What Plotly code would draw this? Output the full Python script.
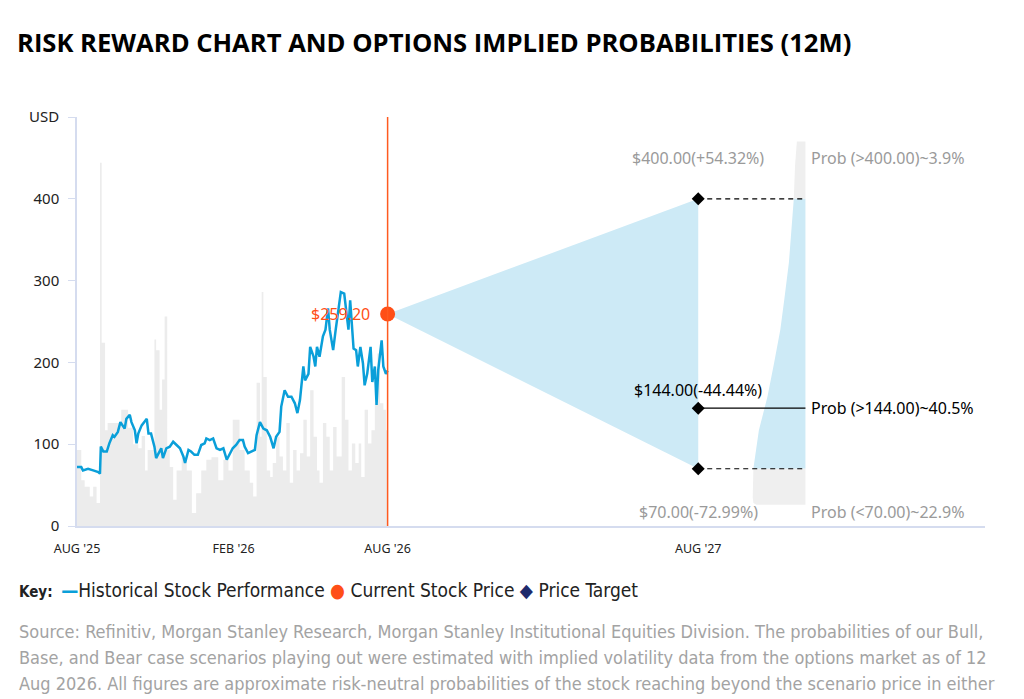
import pandas as pd
import plotly.graph_objects as go

# Historical price (days since 12 Aug 2025, USD)
price_days = [0, 5, 7, 13, 19, 25, 27, 28, 31, 35,
              38, 42, 44, 48, 51, 54, 56, 58, 62, 64,
              68, 70, 72, 76, 80, 82, 84, 87, 91, 93,
              96, 99, 101, 105, 109, 113, 117, 121, 125, 127,
              131, 134, 138, 142, 146, 150, 152, 156, 160, 164,
              168, 172, 176, 180, 183, 187, 191, 195, 197, 201,
              205, 209, 211, 215, 219, 223, 227, 231, 234, 238,
              240, 244, 248, 252, 256, 259, 262, 266, 268, 272,
              274, 278, 280, 282, 285, 289, 292, 295, 297, 301,
              304, 307, 310, 314, 317, 319, 321, 325, 328, 330,
              333, 336, 338, 341, 345, 347, 350, 352, 354, 358,
              360, 363, 365]
price_vals = [72, 72, 68, 70, 68, 66, 64, 97, 91, 91,
              101, 111, 109, 115, 127, 123, 119, 131, 136, 127,
              117, 101, 113, 123, 129, 131, 113, 113, 97, 83,
              89, 95, 83, 95, 97, 103, 99, 95, 85, 77,
              93, 91, 87, 87, 99, 101, 107, 105, 107, 95,
              93, 95, 81, 89, 95, 99, 105, 105, 97, 89,
              91, 93, 111, 127, 119, 117, 109, 95, 109, 115,
              146, 166, 158, 158, 150, 138, 154, 195, 178, 186,
              219, 207, 195, 219, 207, 232, 240, 266, 240, 215,
              240, 260, 286, 284, 260, 240, 276, 217, 215, 195,
              219, 199, 172, 186, 219, 176, 195, 148, 191, 227,
              195, 186, 190]

# Background volume-style bars (days since start, scaled to price axis)
vol_days = [0, 5, 9, 15, 19, 23, 27, 29, 33, 36,
            42, 48, 52, 56, 60, 66, 72, 76, 80, 83,
            91, 93, 97, 100, 103, 106, 109, 113, 117, 123,
            129, 135, 140, 146, 152, 158, 166, 172, 178, 183,
            191, 197, 203, 207, 211, 215, 217, 219, 223, 227,
            230, 234, 238, 242, 246, 250, 254, 258, 262, 266,
            270, 274, 278, 282, 285, 289, 293, 297, 301, 305,
            311, 315, 319, 323, 327, 331, 334, 338, 342, 346,
            350, 353, 356, 360, 363, 365]
vol_vals = [93, 56, 48, 36, 48, 28, 444, 224, 117, 126,
            126, 126, 142, 142, 120, 100, 95, 110, 68, 93,
            228, 215, 142, 179, 256, 93, 72, 32, 68, 84,
            68, 16, 40, 68, 81, 84, 56, 81, 68, 130,
            93, 68, 53, 36, 175, 109, 286, 182, 68, 60,
            77, 109, 85, 68, 126, 53, 93, 68, 89, 130,
            85, 166, 109, 68, 53, 126, 109, 68, 121, 85,
            182, 130, 68, 101, 77, 101, 60, 142, 101, 117,
            150, 211, 150, 142, 117, 117]

current_price = 259.20
bull, base_case, bear = 400.00, 144.00, 70.00
bull_lbl = "$400.00(+54.32%)"
base_lbl = "$144.00(-44.44%)"
bear_lbl = "$70.00(-72.99%)"
prob_lbls = ["Prob (>400.00)~3.9%", "Prob (>144.00)~40.5%", "Prob (<70.00)~22.9%"]

# Implied distribution (price level, relative width)
dist_prices = [470, 440, 400, 360, 322, 280, 240, 200, 158, 117, 77, 70, 50, 35, 28, 26]
dist_width = [0.14, 0.17, 0.19, 0.23, 0.27, 0.34, 0.41, 0.51, 0.62, 0.76, 0.84, 0.85, 0.86, 0.86, 0.85, 0.80]

tick_dates = ["2025-08-12", "2026-02-12", "2026-08-12", "2027-08-12"]
tick_text = ["AUG '25", "FEB '26", "AUG '26", "AUG '27"]

start = pd.Timestamp("2025-08-12")
now = pd.Timestamp("2026-08-12")
target = pd.Timestamp("2027-08-12")
dist_right = pd.Timestamp("2027-12-16")
x_end = pd.Timestamp("2028-07-14")

BLUE = "#0a9fd9"
ORANGE = "#ff4f17"
FAN = "#cdeaf6"
GREY = "#efefef"
FONT = "Noto Sans"
NARROW = "Liberation Sans Narrow, DejaVu Sans Condensed"

price_x = start + pd.to_timedelta(price_days, unit="D")
vol_x = start + pd.to_timedelta(vol_days, unit="D")

dist = pd.DataFrame({"p": dist_prices, "w": dist_width})
dist["x"] = dist_right - pd.to_timedelta(dist["w"] * 72, unit="D")


def dist_shape(lo, hi):
    seg = dist[(dist.p >= lo) & (dist.p <= hi)]
    xs = list(seg.x) + [dist_right] * len(seg)
    ys = list(seg.p) + list(seg.p[::-1])
    return xs, ys


fig = go.Figure()

# grey background bars
fig.add_trace(go.Scatter(x=vol_x, y=vol_vals, mode="lines", line=dict(width=0, shape="hv"),
                         fill="tozeroy", fillcolor="#ececec", hoverinfo="skip"))

# scenario fan
fig.add_trace(go.Scatter(x=[now, target, target, now], y=[current_price, bull, bear, current_price],
                         fill="toself", fillcolor=FAN, line=dict(width=0), mode="lines"))

# implied distribution
for lo, hi, col in [(400, 500, GREY), (70, 400, FAN), (0, 70, GREY)]:
    xs, ys = dist_shape(lo, hi)
    fig.add_trace(go.Scatter(x=xs, y=ys, fill="toself", fillcolor=col, line=dict(width=0),
                             mode="lines", hoverinfo="skip"))

fig.add_trace(go.Scatter(x=price_x, y=price_vals, mode="lines", line=dict(color=BLUE, width=2.5)))

for lvl in [bull, bear]:
    fig.add_trace(go.Scatter(x=[target, dist_right], y=[lvl, lvl], mode="lines",
                             line=dict(color="black", width=1.2, dash="5px,4px")))
fig.add_trace(go.Scatter(x=[target, dist_right], y=[base_case, base_case], mode="lines",
                         line=dict(color="black", width=1.3)))

fig.add_trace(go.Scatter(x=[target] * 3, y=[bull, base_case, bear], mode="markers",
                         marker=dict(symbol="diamond", size=10, color="black")))

fig.add_shape(type="line", x0=now, x1=now, y0=0, y1=500, line=dict(color="#ff5a1f", width=1.5))

fig.add_trace(go.Scatter(x=[now], y=[current_price], mode="markers",
                         marker=dict(size=15, color=ORANGE)))

fig.add_annotation(x=now, y=current_price, text=f"${current_price:.2f}", showarrow=False,
                   xanchor="right", xshift=-16, font=dict(family=FONT, size=16, color=ORANGE))

fig.add_annotation(x=target, y=450, text=bull_lbl, showarrow=False,
                   font=dict(family=FONT, size=16, color="#9a9a9a"))
fig.add_annotation(x=target, y=166, text=base_lbl, showarrow=False,
                   font=dict(family=FONT, size=16, color="black"))
fig.add_annotation(x=target, y=17, text=bear_lbl, showarrow=False,
                   font=dict(family=FONT, size=16, color="#9a9a9a"))
for yv, txt, col in [(450, prob_lbls[0], "#9a9a9a"), (144, prob_lbls[1], "black"),
                     (17, prob_lbls[2], "#9a9a9a")]:
    fig.add_annotation(x=dist_right, y=yv, text=txt, showarrow=False, xanchor="left", xshift=4,
                       font=dict(family=FONT, size=16, color=col))

# key + source
fig.add_annotation(
    xref="paper", yref="paper", x=-0.066, y=-0.156, xanchor="left", yanchor="middle",
    showarrow=False, align="left",
    text=("<b>Key:</b>  <span style='font-size:19px;color:" + BLUE + "'><b>—</b></span>"
          "<span style='font-size:19px'>Historical Stock Performance </span>"
          "<span style='font-size:19px;color:" + ORANGE + "'>●</span>"
          "<span style='font-size:19px'> Current Stock Price </span>"
          "<span style='font-size:19px;color:#1f2a6b'>◆</span>"
          "<span style='font-size:19px'> Price Target</span>"),
    font=dict(family=NARROW, size=15, color="#222"))

source_lines = [
    "Source: Refinitiv, Morgan Stanley Research, Morgan Stanley Institutional Equities Division. The probabilities of our Bull,",
    "Base, and Bear case scenarios playing out were estimated with implied volatility data from the options market as of 12",
    "Aug 2026. All figures are approximate risk-neutral probabilities of the stock reaching beyond the scenario price in either",
]
for i, line in enumerate(source_lines):
    fig.add_annotation(xref="paper", yref="paper", x=-0.066, y=-0.259 - 0.0636 * i,
                       xanchor="left", yanchor="middle", showarrow=False, text=line,
                       font=dict(family=NARROW, size=18, color="#a3a3a3"))

# page body adds an 8px margin, so the layout is offset by that amount
fig.update_layout(
    width=1024, height=699,
    title=dict(text="<b>RISK REWARD CHART AND OPTIONS IMPLIED PROBABILITIES (12M)</b>",
               x=9 / 1024, xanchor="left", y=1 - 35 / 699, yanchor="middle",
               font=dict(family="Open Sans", size=25.6, color="black")),
    showlegend=False,
    plot_bgcolor="white", paper_bgcolor="white",
    margin=dict(l=69, r=47, t=109, b=181),
    xaxis=dict(type="date", range=[start, x_end], tickvals=tick_dates, ticktext=tick_text,
               showgrid=False, zeroline=False, showline=True, linecolor="#d5dcef", linewidth=1.5,
               ticks="", ticklabelstandoff=10,
               tickfont=dict(family=FONT, size=12.5, color="#222")),
    yaxis=dict(range=[0, 500], tickvals=[0, 100, 200, 300, 400, 500],
               ticktext=["0", "100", "200", "300", "400", "USD"],
               showgrid=False, zeroline=False, showline=True, linecolor="#d5dcef", linewidth=1.5,
               ticks="outside", ticklen=7, tickcolor="#d5dcef", ticklabelstandoff=6,
               tickfont=dict(family=FONT, size=15, color="#222")),
)

fig.write_html("out.html")
